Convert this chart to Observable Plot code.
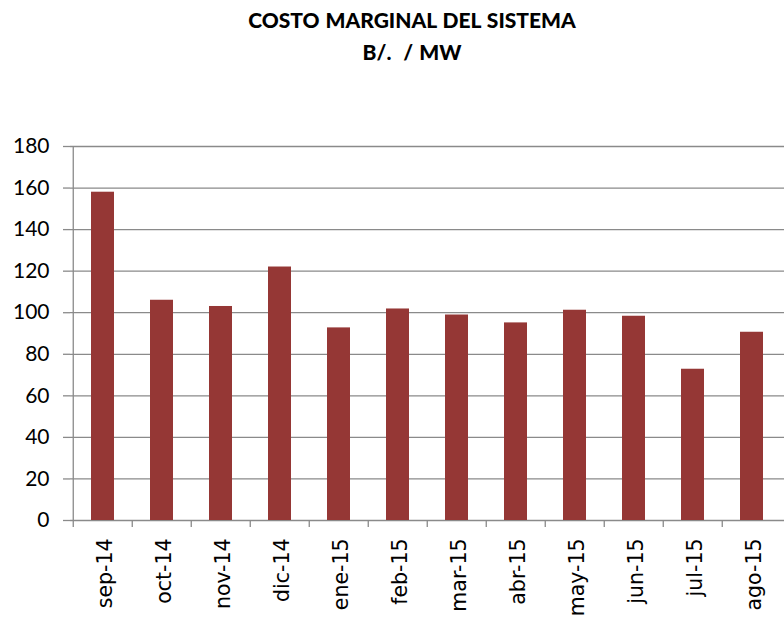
<!DOCTYPE html>
<html>
<head>
<meta charset="utf-8">
<script src="https://cdn.jsdelivr.net/npm/d3@7"></script>
<script src="https://cdn.jsdelivr.net/npm/@observablehq/plot@0.6"></script>
<style>
  html, body { margin: 0; padding: 0; background: #fff; overflow: hidden; }
  #title { height: 68px; box-sizing: border-box; padding-top: 4px; width: 784px;
    font-family: Lato, "Open Sans", sans-serif; font-weight: 900; font-size: 21px;
    line-height: 32px; text-align: center; color: #000; word-spacing: 1px; }
  #title div { transform: translateX(20px); }
</style>
</head>
<body>
<div id="title"><div>COSTO MARGINAL DEL SISTEMA</div><div>B/. &nbsp;/ MW</div></div>
<div id="chart"></div>
<script>
const months = ["sep-14","oct-14","nov-14","dic-14","ene-15","feb-15","mar-15","abr-15","may-15","jun-15","jul-15","ago-15"];
const values = [158, 106, 103, 122, 92.7, 101.8, 98.9, 95.1, 101.2, 98.3, 72.8, 90.6];
const yTicks = [0, 20, 40, 60, 80, 100, 120, 140, 160, 180];

const data = months.map((m, i) => ({month: m, value: values[i]}));

const W = 784, H = 551;
const mL = 70, mR = 0, mT = 78, mB = 99;
const pI = 0.607, pO = 0.3035;
const step = (W - mL - mR) / (months.length - pI + 2 * pO);
const grid = "#8a8a8a";

const chart = Plot.plot({
  width: W, height: H,
  marginLeft: mL, marginRight: mR, marginTop: mT, marginBottom: mB,
  style: {background: "#fff"},
  x: {domain: months, paddingInner: pI, paddingOuter: pO, axis: null, label: null},
  y: {domain: [0, 180], axis: null, label: null},
  marks: [
    Plot.ruleY(yTicks, {y: d => d, stroke: grid, strokeWidth: 1.3}),
    Plot.ruleX(months.slice(0, 1), {x: d => d, dx: -step / 2, y1: 0, y2: 180, stroke: grid, strokeWidth: 1.3}),
    Plot.barY(data, {x: "month", y: "value", fill: "#953735"}),
    Plot.axisY({ticks: yTicks, tickSize: 7, tickPadding: 14, stroke: grid, strokeWidth: 1.3, label: null,
      fontSize: 21, fontFamily: "Lato, sans-serif", fill: "#000", color: "#000"}),
    Plot.axisX({tickSize: 7, dx: -step / 2, tickFormat: () => "", stroke: grid, strokeWidth: 1.3, label: null}),
    Plot.axisX({tickSize: 0, tickPadding: 18, tickRotate: -90, fontSize: 20.5, label: null,
      fontFamily: "DejaVu Sans, sans-serif", fill: "#000", dx: 2})
  ]
});
document.getElementById("chart").appendChild(chart);
</script>
</body>
</html>
